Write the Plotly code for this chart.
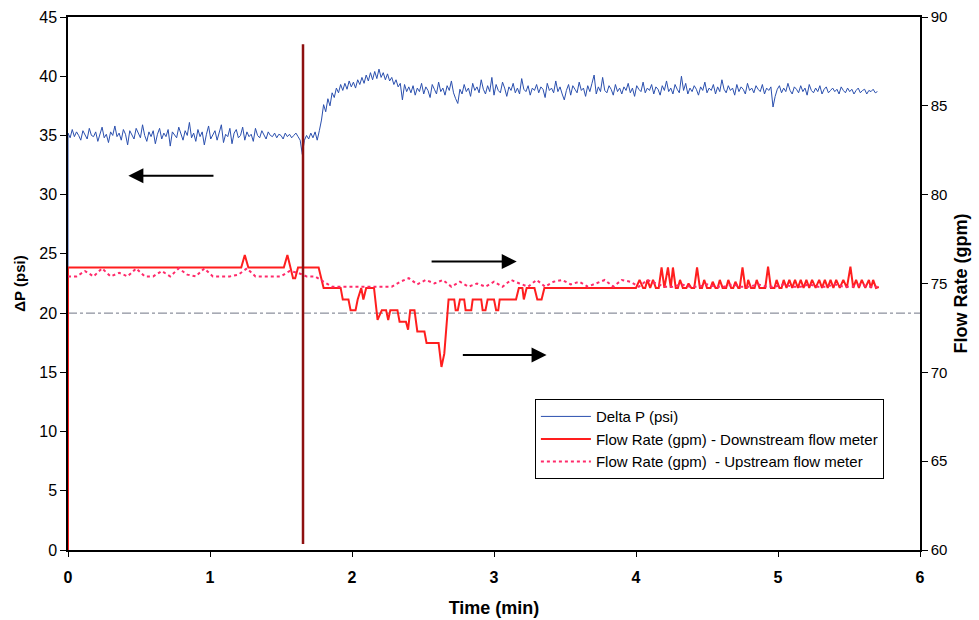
import numpy as np
import plotly.graph_objects as go

# ---------------- data ----------------
# Delta P (psi), sampled every 0.015 min starting at t = 0 (preceded by an initial 0 reading)
dp_step_min = 0.015
dp_initial_psi = 0.0
dp_psi = [
    # 0.000 - 1.635 min
    35.2, 34.8, 35.5, 34.9, 35.3, 35.0, 34.6, 35.4, 35.1, 34.7,
    35.6, 35.0, 34.9, 35.3, 34.5, 35.2, 35.7, 34.8, 35.1, 34.4,
    35.3, 35.0, 35.8, 34.9, 35.2, 34.6, 35.5, 35.1, 34.2, 35.4,
    35.0, 34.7, 35.6, 35.2, 34.8, 35.9, 35.0, 34.5, 35.3, 34.9,
    35.4, 34.3, 35.1, 35.6, 34.7, 35.2, 34.9, 35.5, 34.1, 35.3,
    35.0, 34.8, 35.7, 35.1, 34.6, 35.4, 35.0, 36.1, 34.8, 35.2,
    34.5, 35.5, 34.9, 35.3, 34.2, 35.1, 35.8, 34.7, 35.0, 35.4,
    34.6, 35.2, 35.9, 34.4, 35.1, 34.9, 35.6, 34.3, 35.2, 35.5,
    34.8, 35.0, 35.7, 34.6, 35.3, 34.9, 35.1, 34.5, 35.6, 35.0,
    34.8, 35.4, 35.1, 34.7, 35.3, 35.0, 34.9, 35.2, 34.8, 35.1,
    35.0, 34.7, 35.2, 34.9, 35.1, 34.8, 35.0, 35.2, 34.9, 34.6,
    # 1.650 - 2.400 min
    33.4, 34.6, 35.0, 34.7, 35.2, 34.8, 35.3, 34.6, 35.4, 36.3,
    37.6, 37.0, 38.1, 37.5, 38.6, 38.2, 39.0, 38.6, 39.3, 38.8,
    39.4, 38.9, 39.6, 39.1, 39.5, 39.0, 39.7, 39.3, 39.9, 39.4,
    40.1, 39.6, 40.3, 39.7, 40.4, 39.8, 40.6, 39.9, 40.3, 39.7,
    40.2, 39.6, 39.9, 39.3, 39.7, 39.1, 39.4, 38.0, 39.3, 38.7,
    39.1,
    # 2.415 - 5.700 min
    38.6, 39.2, 38.4, 39.0, 38.7, 39.4, 38.5, 39.1, 38.8, 38.2,
    39.3, 38.9, 38.5, 39.5, 38.7, 39.0, 38.4, 39.2, 38.8, 39.6,
    38.6, 38.1, 37.7, 38.9, 38.5, 39.3, 38.7, 39.0, 38.3, 39.4,
    38.8, 39.1, 38.6, 39.7, 38.9, 38.5, 39.2, 38.7, 39.9, 38.4,
    39.3, 38.8, 38.6, 39.5, 39.0, 38.3, 39.1, 38.8, 39.4, 38.6,
    39.0, 38.5, 39.8, 38.9, 38.7, 39.2, 38.4, 39.0, 38.8, 39.3,
    38.6, 39.1, 38.9, 38.2, 39.4, 38.8, 39.0, 38.6, 39.6, 38.7,
    39.1, 38.5, 38.0, 38.8, 39.3, 38.4, 39.2, 38.9, 38.6, 39.5,
    38.8, 39.0, 38.3, 39.2, 38.7, 39.4, 40.1, 38.5, 39.1, 38.7,
    39.9, 38.8, 38.6, 39.2, 38.9, 38.4, 39.3, 38.7, 39.0, 38.5,
    39.1, 38.8, 39.4, 38.6, 39.0, 38.3, 39.2, 38.9, 38.7, 39.5,
    38.6, 39.0, 38.8, 39.3, 38.5, 39.1, 38.9, 38.4, 39.2, 38.8,
    39.6, 38.7, 39.0, 38.5, 39.3, 38.9, 38.6, 40.0, 38.8, 39.4,
    38.5, 39.0, 38.7, 39.2, 38.9, 38.4, 39.1, 38.8, 39.5, 38.6,
    39.0, 38.8, 39.3, 38.5, 39.1, 38.7, 39.7, 38.9, 38.6, 39.2,
    38.8, 39.0, 38.4, 39.3, 38.7, 39.1, 38.9, 38.5, 39.4, 38.8,
    39.0, 38.6, 39.2, 38.9, 38.7, 39.3, 38.5, 39.0, 38.8, 39.1,
    37.4, 38.3, 38.9, 39.2, 38.6, 39.0, 38.7, 39.4, 38.8, 38.5,
    39.1, 38.9, 38.6, 39.2, 38.7, 39.0, 38.4, 39.3, 38.8, 38.6,
    39.0, 38.7, 39.2, 38.5, 38.9, 39.1, 38.6, 38.8, 39.0, 38.7,
    38.9, 38.5, 39.1, 38.8, 38.6, 39.0, 38.7, 38.9, 38.5, 38.8,
    39.0, 38.6, 38.8, 38.9, 38.5, 38.8, 38.7, 38.9, 38.6, 38.7,
]

# Downstream flow meter (gpm)
ds_time = [
    0.0, 0.0, 1.22, 1.245, 1.27, 1.52, 1.545, 1.565, 1.585, 1.60,
    1.62, 1.765, 1.80, 1.92, 1.935, 1.975, 1.99, 2.025, 2.04, 2.065,
    2.08, 2.10, 2.155, 2.18, 2.21, 2.24, 2.255, 2.27, 2.32, 2.335,
    2.38, 2.395, 2.41, 2.44, 2.46, 2.51, 2.525, 2.61, 2.63, 2.65,
    2.68, 2.72, 2.73, 2.745, 2.76, 2.79, 2.80, 2.84, 2.85, 2.91,
    2.92, 2.94, 2.955, 3.00, 3.015, 3.03, 3.04, 3.155, 3.175, 3.20,
    3.21, 3.23, 3.285, 3.305, 3.335, 3.355, 4.00, 4.025, 4.05, 4.065,
    4.08, 4.10, 4.12, 4.14, 4.16, 4.18, 4.20, 4.225, 4.245, 4.26,
    4.28, 4.295, 4.31, 4.33, 4.355, 4.37, 4.39, 4.41, 4.43, 4.45,
    4.465, 4.48, 4.50, 4.525, 4.54, 4.56, 4.575, 4.59, 4.61, 4.635,
    4.65, 4.67, 4.685, 4.70, 4.72, 4.73, 4.75, 4.77, 4.78, 4.79,
    4.81, 4.835, 4.85, 4.87, 4.91, 4.93, 4.95, 4.975, 4.99, 5.01,
    5.025, 5.04, 5.06, 5.08, 5.10, 5.12, 5.14, 5.16, 5.18, 5.20,
    5.22, 5.24, 5.265, 5.29, 5.31, 5.33, 5.35, 5.37, 5.39, 5.41,
    5.435, 5.46, 5.485, 5.51, 5.53, 5.55, 5.57, 5.59, 5.615, 5.64,
    5.655, 5.67, 5.69, 5.71,
]
ds_gpm = [
    60.0, 75.9, 75.9, 76.6, 75.9, 75.9, 76.6, 75.9, 75.3, 75.3,
    75.9, 75.9, 74.75, 74.75, 74.1, 74.1, 73.5, 73.5, 74.1, 74.75,
    74.1, 74.75, 74.75, 72.95, 73.5, 73.5, 72.95, 73.5, 73.5, 72.85,
    72.85, 72.4, 73.5, 73.5, 72.3, 72.3, 71.65, 71.65, 70.3, 71.05,
    74.1, 74.1, 73.5, 73.5, 74.1, 74.1, 73.5, 73.5, 74.1, 74.1,
    73.5, 73.5, 74.1, 74.1, 73.5, 73.5, 74.1, 74.1, 74.75, 74.75,
    74.1, 74.75, 74.75, 74.1, 74.1, 74.75, 74.75, 75.2, 74.75, 74.75,
    75.2, 74.75, 75.2, 74.75, 74.75, 75.9, 74.75, 75.9, 74.75, 75.9,
    74.75, 74.75, 75.2, 74.75, 74.75, 75.0, 74.75, 74.75, 75.9, 74.75,
    74.75, 75.2, 74.75, 74.75, 75.1, 74.75, 74.75, 75.2, 74.75, 74.75,
    75.2, 74.75, 74.75, 75.1, 74.75, 74.75, 75.9, 74.75, 74.75, 75.2,
    74.75, 74.75, 75.2, 74.75, 74.75, 75.95, 74.75, 74.75, 75.2, 74.75,
    74.75, 75.2, 74.75, 75.2, 74.75, 75.2, 74.75, 75.2, 74.75, 75.2,
    74.75, 75.2, 74.75, 75.2, 74.75, 75.2, 74.75, 75.2, 74.75, 75.2,
    74.75, 75.2, 74.75, 75.95, 74.75, 75.2, 74.75, 75.2, 74.75, 75.2,
    74.75, 75.2, 74.75, 74.8,
]

# Upstream flow meter (gpm), sampled every 0.06 min starting at t = 0
up_step_min = 0.06
up_gpm = [
    75.4, 75.4, 75.7, 75.4, 75.85, 75.4, 75.6, 75.4, 75.85, 75.4,
    75.4, 75.7, 75.4, 75.85, 75.5, 75.4, 75.85, 75.4, 75.4, 75.4,
    75.5, 75.85, 75.4, 75.4, 75.4, 75.4, 75.7, 75.6, 75.4, 75.4,
    75.1, 74.82, 74.82, 74.82, 74.82, 74.82, 74.82, 74.82, 74.82, 75.1,
    75.3, 74.95, 75.2, 75.0, 75.2, 74.82, 75.1, 74.82, 75.0, 74.82,
    75.1, 74.82, 75.2, 75.0, 74.82, 75.2, 74.82, 75.1, 75.2, 74.95,
    75.1, 74.82, 75.0, 75.2, 74.82, 75.2, 75.1, 74.82, 75.2, 75.0,
    74.82, 74.82, 74.95, 74.82, 74.82, 74.95, 74.82, 74.82, 74.95, 74.82,
    74.82, 74.95, 74.82, 74.82, 74.95, 74.82, 74.82, 74.95, 74.82, 74.82,
    74.95, 74.82, 74.82, 74.95, 74.82, 74.82,
]

event_time_min = 1.655
event_psi_span = [0.5, 42.7]
ref_level_psi = 20.0

x_ticks = [0, 1, 2, 3, 4, 5, 6]
psi_ticks = [0, 5, 10, 15, 20, 25, 30, 35, 40, 45]
gpm_ticks = [60, 65, 70, 75, 80, 85, 90]

assert len(ds_time) == len(ds_gpm)

dp_time = [0.0] + list(np.round(np.arange(len(dp_psi)) * dp_step_min, 3))
dp_vals = [dp_initial_psi] + dp_psi
up_time = list(np.round(np.arange(len(up_gpm)) * up_step_min, 3))

FONT = "Liberation Sans, Arial, sans-serif"

fig = go.Figure()
fig.add_trace(go.Scatter(
    x=dp_time, y=dp_vals, mode="lines", name="Delta P (psi)",
    line=dict(color="#2A4FAE", width=1), yaxis="y"))
fig.add_trace(go.Scatter(
    x=ds_time, y=ds_gpm, mode="lines", name="Flow Rate (gpm) - Downstream flow meter",
    line=dict(color="#FF1E1E", width=2), yaxis="y2"))
fig.add_trace(go.Scatter(
    x=up_time, y=up_gpm, mode="lines", name="Flow Rate (gpm)\u00a0 - Upstream flow meter",
    line=dict(color="#FF2A6A", width=2, dash="dot"), yaxis="y2"))

# reference dash-dot level and event marker
fig.add_shape(type="line", xref="paper", x0=0, x1=1, yref="y",
              y0=ref_level_psi, y1=ref_level_psi,
              line=dict(color="#6F7585", width=1, dash="dashdot"), layer="below")
fig.add_shape(type="line", xref="x", x0=event_time_min, x1=event_time_min, yref="y",
              y0=event_psi_span[0], y1=event_psi_span[1],
              line=dict(color="#8E1010", width=2.5), layer="above")

arrow_style = dict(xref="x", yref="y", axref="x", ayref="y", text="", showarrow=True,
                   arrowhead=2, arrowsize=1.5, arrowwidth=2, arrowcolor="black")
fig.add_annotation(x=0.425, y=31.6, ax=1.035, ay=31.6, **arrow_style)
fig.add_annotation(x=3.16, y=24.35, ax=2.55, ay=24.35, **arrow_style)
fig.add_annotation(x=3.37, y=16.47, ax=2.77, ay=16.47, **arrow_style)

fig.update_layout(
    width=979, height=620,
    margin=dict(l=68, r=59, t=17, b=70, autoexpand=False),
    paper_bgcolor="white", plot_bgcolor="white",
    font=dict(family=FONT, color="black"),
    showlegend=True,
    legend=dict(x=0.548, y=0.283, xanchor="left", yanchor="top",
                bordercolor="black", borderwidth=1, bgcolor="white",
                font=dict(family=FONT, size=15, color="black"),
                itemwidth=50, tracegroupgap=0),
    xaxis=dict(range=[0, 6], tickmode="array", tickvals=x_ticks,
               ticks="outside", ticklen=5, tickcolor="black",
               ticklabelstandoff=7, automargin=False,
               showline=True, linecolor="black", linewidth=1.5, mirror=True,
               showgrid=False, zeroline=False,
               tickfont=dict(size=16, weight="bold"),
               title=dict(text="<b>Time (min)</b>", font=dict(size=18), standoff=16)),
    yaxis=dict(range=[0, 45], tickmode="array", tickvals=psi_ticks,
               ticks="outside", ticklen=6, tickcolor="black", automargin=False,
               showline=True, linecolor="black", linewidth=1.5,
               showgrid=False, zeroline=False,
               tickfont=dict(size=16),
               title=dict(text="<b>\u0394P (psi)</b>", font=dict(size=15), standoff=10)),
    yaxis2=dict(range=[60, 90], overlaying="y", side="right", tickmode="array",
                tickvals=gpm_ticks, ticks="outside", ticklen=6, tickcolor="black",
                automargin=False,
                showline=True, linecolor="black", linewidth=1.5,
                showgrid=False, zeroline=False,
                tickfont=dict(size=15),
                title=dict(text="<b>Flow Rate (gpm)</b>", font=dict(size=18), standoff=8)),
)

fig.write_html("out.html")
